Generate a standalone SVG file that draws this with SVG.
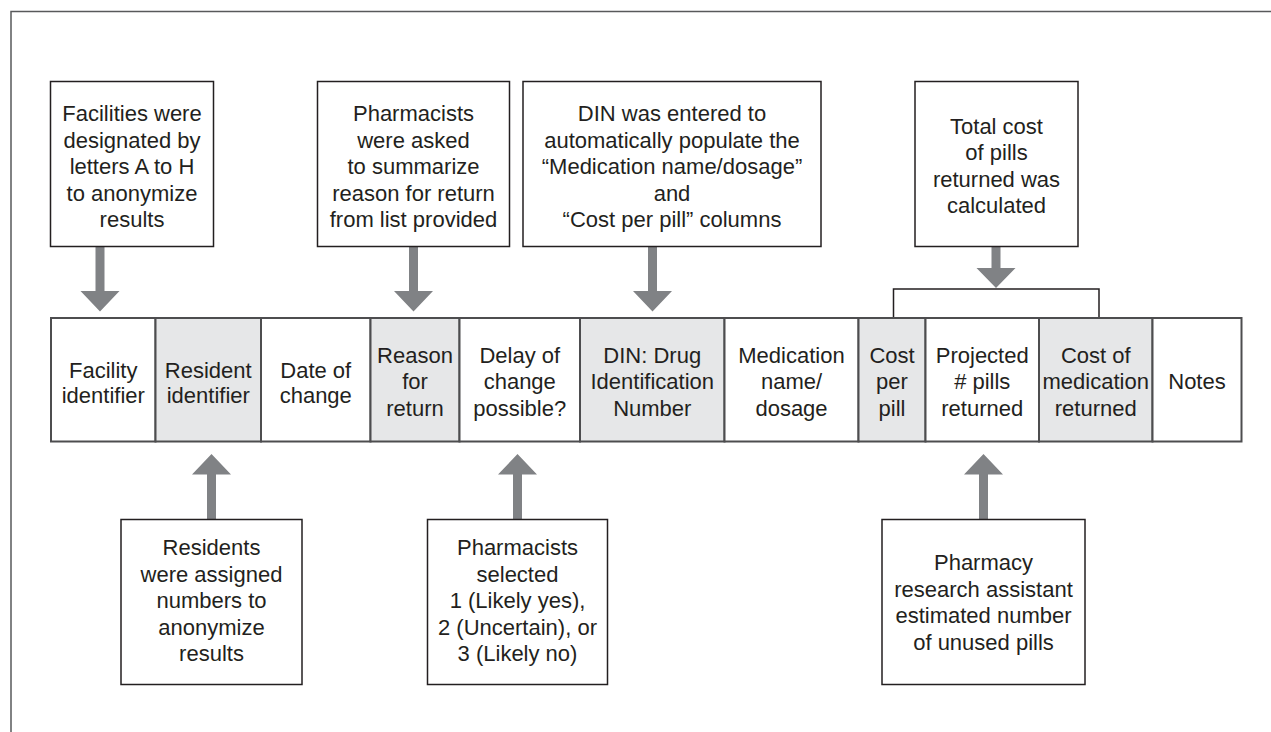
<svg xmlns="http://www.w3.org/2000/svg" width="1271" height="732" viewBox="0 0 1271 732">
<style>
text{font-family:"Liberation Sans",Arial,sans-serif;font-size:22px;fill:#231f20;text-anchor:middle}
.box{fill:#fff;stroke:#231f20;stroke-width:1.5}
.cell{fill:#fff;stroke:#4d4d4f;stroke-width:2}
.grey{fill:#e6e7e8}
.arrow{fill:#808285;stroke:none}
.bracket{fill:none;stroke:#231f20;stroke-width:1.5}
.frame{fill:none;stroke:#58595b;stroke-width:1.5}
</style>
<rect width="1271" height="732" fill="#fff"/>
<path class="frame" d="M11,733 V11.5 H1272"/>

<g id="connectors">
<path class="arrow" d="M95.5,246.5 H104.5 V291 H119.5 L100,311.5 L80.5,291 H95.5 Z"/>
<path class="arrow" d="M409,246.5 H418 V291 H433 L413.5,311.5 L394,291 H409 Z"/>
<path class="arrow" d="M648,246.5 H657 V291 H672 L652.5,311.5 L633,291 H648 Z"/>
<path class="arrow" d="M991.5,246.5 H1000.5 V268 H1015.5 L996,288 L976.5,268 H991.5 Z"/>
<path class="bracket" d="M893.5,318 V289 H1099 V318"/>
<path class="arrow" d="M207,519.5 H216 V474.5 H231 L211.5,454 L192,474.5 H207 Z"/>
<path class="arrow" d="M513,519.5 H522 V474.5 H537 L517.5,454 L498,474.5 H513 Z"/>
<path class="arrow" d="M979,519.5 H988 V474.5 H1003 L983.5,454 L964,474.5 H979 Z"/>
</g>

<g id="note-facilities">
<rect class="box" x="50.5" y="81.5" width="163" height="165"/>
<text x="132" y="121">Facilities were</text>
<text x="132" y="147.5">designated by</text>
<text x="132" y="174">letters A to H</text>
<text x="132" y="200.5">to anonymize</text>
<text x="132" y="227">results</text>
</g>
<g id="note-reason">
<rect class="box" x="317.5" y="81.5" width="192" height="165"/>
<text x="413.5" y="121">Pharmacists</text>
<text x="413.5" y="147.5">were asked</text>
<text x="413.5" y="174">to summarize</text>
<text x="413.5" y="200.5">reason for return</text>
<text x="413.5" y="227">from list provided</text>
</g>
<g id="note-din">
<rect class="box" x="523" y="81.5" width="298" height="165"/>
<text x="672" y="121">DIN was entered to</text>
<text x="672" y="147.5">automatically populate the</text>
<text x="672" y="174">“Medication name/dosage”</text>
<text x="672" y="200.5">and</text>
<text x="672" y="227">“Cost per pill” columns</text>
</g>
<g id="note-total">
<rect class="box" x="915" y="81.5" width="163" height="165"/>
<text x="996.5" y="133.5">Total cost</text>
<text x="996.5" y="160">of pills</text>
<text x="996.5" y="186.5">returned was</text>
<text x="996.5" y="213">calculated</text>
</g>

<g id="table">
<g id="col-facility"><rect class="cell" x="51" y="318" width="104.5" height="123.5"/><text x="103.25" y="377.5">Facility</text><text x="103.25" y="403">identifier</text></g>
<g id="col-resident"><rect class="cell grey" x="155.5" y="318" width="105.5" height="123.5"/><text x="208.25" y="377.5">Resident</text><text x="208.25" y="403">identifier</text></g>
<g id="col-date"><rect class="cell" x="261" y="318" width="109.5" height="123.5"/><text x="315.75" y="377.5">Date of</text><text x="315.75" y="403">change</text></g>
<g id="col-reason"><rect class="cell grey" x="370.5" y="318" width="89" height="123.5"/><text x="415" y="362.5">Reason</text><text x="415" y="389">for</text><text x="415" y="415.5">return</text></g>
<g id="col-delay"><rect class="cell" x="459.5" y="318" width="120.5" height="123.5"/><text x="519.75" y="362.5">Delay of</text><text x="519.75" y="389">change</text><text x="519.75" y="415.5">possible?</text></g>
<g id="col-din"><rect class="cell grey" x="580" y="318" width="144.5" height="123.5"/><text x="652.25" y="362.5">DIN: Drug</text><text x="652.25" y="389">Identification</text><text x="652.25" y="415.5">Number</text></g>
<g id="col-medication"><rect class="cell" x="724.5" y="318" width="134" height="123.5"/><text x="791.5" y="362.5">Medication</text><text x="791.5" y="389">name/</text><text x="791.5" y="415.5">dosage</text></g>
<g id="col-costpill"><rect class="cell grey" x="858.5" y="318" width="67" height="123.5"/><text x="892" y="362.5">Cost</text><text x="892" y="389">per</text><text x="892" y="415.5">pill</text></g>
<g id="col-projected"><rect class="cell" x="925.5" y="318" width="113.5" height="123.5"/><text x="982.25" y="362.5">Projected</text><text x="982.25" y="389"># pills</text><text x="982.25" y="415.5">returned</text></g>
<g id="col-costmed"><rect class="cell grey" x="1039" y="318" width="113.5" height="123.5"/><text x="1095.75" y="362.5">Cost of</text><text x="1095.75" y="389">medication</text><text x="1095.75" y="415.5">returned</text></g>
<g id="col-notes"><rect class="cell" x="1152.5" y="318" width="89" height="123.5"/><text x="1197" y="389">Notes</text></g>
</g>

<g id="note-residents">
<rect class="box" x="121" y="519.5" width="181" height="165"/>
<text x="211.5" y="555">Residents</text>
<text x="211.5" y="581.5">were assigned</text>
<text x="211.5" y="608">numbers to</text>
<text x="211.5" y="634.5">anonymize</text>
<text x="211.5" y="661">results</text>
</g>
<g id="note-delay">
<rect class="box" x="427.5" y="519.5" width="180" height="165"/>
<text x="517.5" y="555">Pharmacists</text>
<text x="517.5" y="581.5">selected</text>
<text x="517.5" y="608">1 (Likely yes),</text>
<text x="517.5" y="634.5">2 (Uncertain), or</text>
<text x="517.5" y="661">3 (Likely no)</text>
</g>
<g id="note-pharmacy">
<rect class="box" x="882" y="519.5" width="203" height="165"/>
<text x="983.5" y="570">Pharmacy</text>
<text x="983.5" y="596.5">research assistant</text>
<text x="983.5" y="623">estimated number</text>
<text x="983.5" y="649.5">of unused pills</text>
</g>
</svg>
